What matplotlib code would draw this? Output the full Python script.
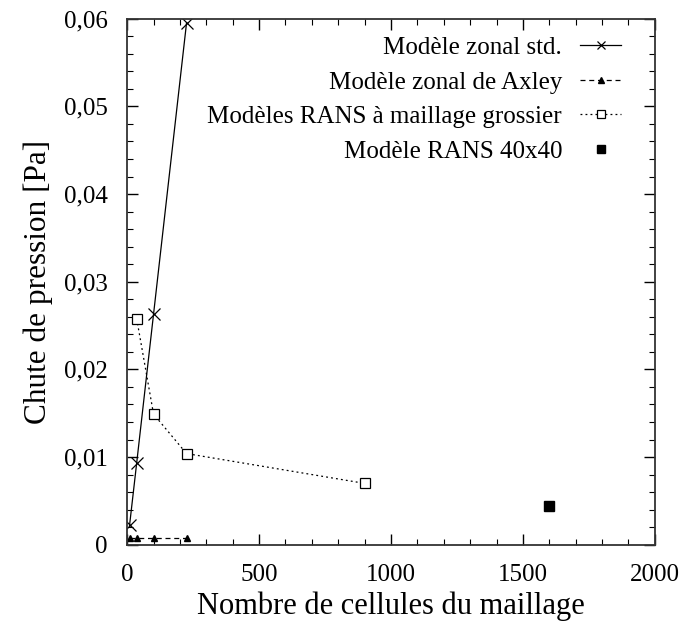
import matplotlib.pyplot as plt
from matplotlib.ticker import MultipleLocator, FuncFormatter

plt.rcParams['font.family'] = ['Liberation Serif', 'DejaVu Serif']

# data
zonal_x = [9, 36, 100, 225]
zonal_y = [0.0022, 0.0093, 0.0263, 0.0595]

axley_x = [9, 36, 100, 225]
axley_y = [0.0008, 0.0008, 0.0008, 0.0008]

rans_x = [36, 100, 225, 900]
rans_y = [0.0258, 0.0149, 0.0104, 0.0070]

rans40_x = [1600]
rans40_y = [0.0044]

x_ticks = [0, 500, 1000, 1500, 2000]

fig = plt.figure(figsize=(6.8, 6.24), dpi=100)
ax = fig.add_axes([0.187, 0.127, 0.776, 0.843])

ax.plot(zonal_x, zonal_y, color='black', lw=0.9, ls='-', marker='x', ms=8,
        mew=0.9, label='Modèle zonal std.')
ax.plot(axley_x, axley_y, color='black', lw=0.9, ls=(0, (4, 3)), marker='^', ms=5,
        label='Modèle zonal de Axley')
ax.plot(rans_x, rans_y, color='black', lw=0.9, ls=(0, (1.5, 2.5)), marker='s', ms=7,
        mfc='white', mew=0.9, label='Modèles RANS à maillage grossier')
ax.plot(rans40_x, rans40_y, color='black', ls='none', marker='s', ms=7,
        label='Modèle RANS 40x40')

ax.set_xlim(0, 2000)
ax.set_ylim(0, 0.06)
ax.set_xticks(x_ticks)
ax.xaxis.set_minor_locator(MultipleLocator(100))
ax.yaxis.set_major_locator(MultipleLocator(0.01))
ax.yaxis.set_minor_locator(MultipleLocator(0.002))
ax.yaxis.set_major_formatter(FuncFormatter(lambda v, p: '0' if abs(v) < 1e-9 else f'{v:.2f}'.replace('.', ',')))

ax.tick_params(which='both', direction='in', top=True, right=True, labelsize=18)
ax.tick_params(axis='x', which='major', pad=14)
ax.tick_params(axis='y', which='major', pad=14)
ax.tick_params(which='major', length=8, width=1.0)
ax.tick_params(which='minor', length=4, width=0.8)
for s in ax.spines.values():
    s.set_linewidth(1.3)
    s.set_color('#333333')

ax.set_xlabel('Nombre de cellules du maillage', fontsize=22, labelpad=4)
ax.set_ylabel('Chute de pression [Pa]', fontsize=22.5, labelpad=8)

ax.legend(loc='upper right', bbox_to_anchor=(0.955, 0.985), borderaxespad=0,
          frameon=False, markerfirst=False, fontsize=18,
          handlelength=1.64, labelspacing=0.48, handletextpad=0.72, markerscale=0.8)

fig.savefig('out.png', dpi=100)
